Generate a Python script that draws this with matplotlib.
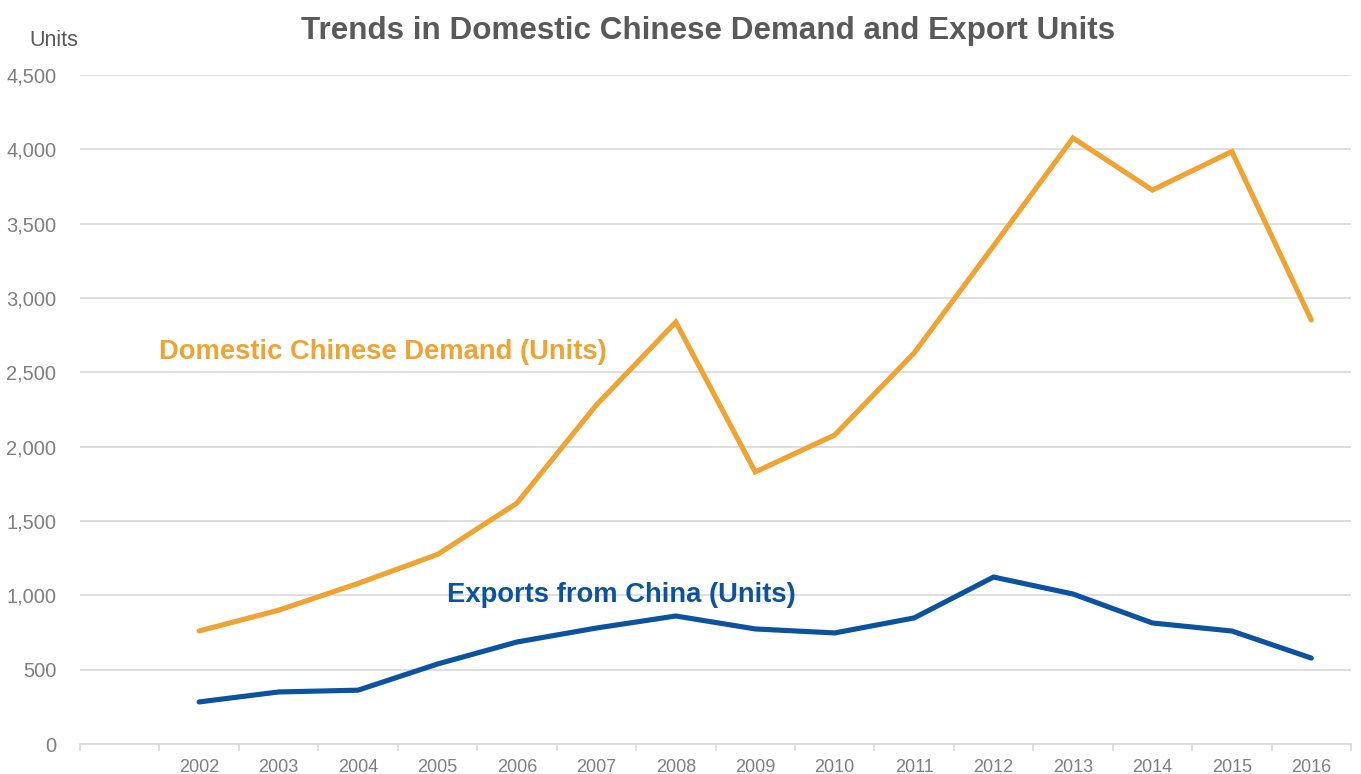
import matplotlib
matplotlib.use("Agg")
import matplotlib.pyplot as plt
from matplotlib.ticker import FuncFormatter, FixedLocator

plt.rcParams['font.family'] = ['Liberation Sans', 'DejaVu Sans']

categories = ["", "2002", "2003", "2004", "2005", "2006", "2007", "2008",
              "2009", "2010", "2011", "2012", "2013", "2014", "2015", "2016"]
domestic_demand = [760, 900, 1080, 1275, 1620, 2280, 2838, 1830, 2078, 2630,
                   3350, 4076, 3726, 3985, 2852]
exports = [283, 350, 362, 538, 686, 780, 861, 774, 747, 848,
           1123, 1009, 814, 760, 578]

orange = "#F0A232"
blue = "#0B52A1"
grey_text = "#7F7F7F"

fig = plt.figure(figsize=(13.61, 7.74), dpi=100)
ax = fig.add_axes([80 / 1361, 1 - 744 / 774, (1351 - 80) / 1361, (744 - 75) / 774])

x = list(range(1, len(categories)))
ax.plot(x, domestic_demand, color=orange, lw=3.7, solid_capstyle="round", solid_joinstyle="miter")
ax.plot(x, exports, color=blue, lw=3.7, solid_capstyle="round", solid_joinstyle="miter")

ax.set_xlim(-0.5, len(categories) - 0.5)
ax.set_ylim(0, 4500)
ax.set_yticks(range(0, 4501, 500))
ax.yaxis.set_major_formatter(FuncFormatter(lambda v, p: f"{int(v):,}"))
ax.grid(axis="y", color="#D9D9D9", lw=1.2)
ax.set_axisbelow(True)

ax.set_xticks(range(len(categories)))
ax.set_xticklabels(categories)
ax.xaxis.set_minor_locator(FixedLocator([i - 0.5 for i in range(len(categories) + 1)]))
ax.tick_params(axis="x", which="major", length=0, pad=11, labelsize=13, labelcolor=grey_text)
ax.tick_params(axis="x", which="minor", length=5, color="#D9D9D9", width=1.2)
ax.tick_params(axis="y", length=0, pad=17, labelsize=14.5, labelcolor=grey_text)

for s in ["top", "right", "left"]:
    ax.spines[s].set_visible(False)
ax.spines["bottom"].set_color("#D9D9D9")
ax.spines["bottom"].set_linewidth(1.2)

fig.text(708 / 1361, 1 - 31 / 774, "Trends in Domestic Chinese Demand and Export Units",
         ha="center", va="center", fontsize=22.6, fontweight="bold", color="#595959")
fig.text(54 / 1361, 1 - 40 / 774, "Units", ha="center", va="center",
         fontsize=15.5, color="#595959")

ax.text(0.5, 2640, "Domestic Chinese Demand (Units)", ha="left", va="center",
        fontsize=19.7, fontweight="bold", color=orange)
ax.text(4.12, 1005, "Exports from China (Units)", ha="left", va="center",
        fontsize=19.7, fontweight="bold", color=blue)

fig.savefig("out.png", dpi=100)
